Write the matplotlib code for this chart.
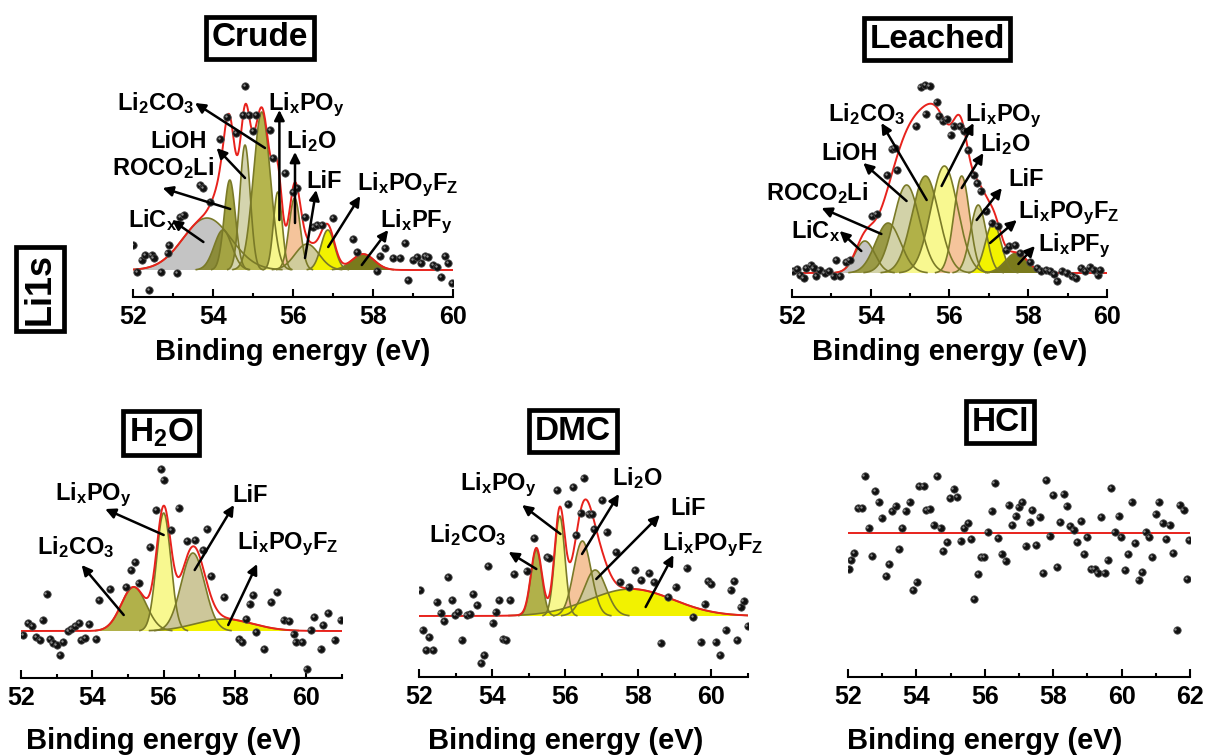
import numpy as np
import matplotlib.pyplot as plt
from matplotlib.transforms import offset_copy

plt.rcParams['font.family'] = 'Liberation Sans'
plt.rcParams['font.weight'] = 'bold'
plt.rcParams['axes.labelweight'] = 'bold'
plt.rcParams['mathtext.fontset'] = 'custom'
plt.rcParams['mathtext.rm'] = 'Liberation Sans:bold'
plt.rcParams['mathtext.bf'] = 'Liberation Sans:bold'
plt.rcParams['mathtext.it'] = 'Liberation Sans:bold:italic'

# ---------------- data (binding energy in eV, intensity in a.u.) ----------------
# Crude
crude_E = [52.00, 52.10, 52.22, 52.30, 52.40, 52.47, 52.52, 52.70, 52.87, 52.90, 53.10, 53.18,
           53.27, 53.68, 53.76, 53.93, 54.18, 54.36, 54.58, 54.75, 54.80, 54.90, 55.00, 55.08,
           55.43, 55.50, 55.80, 56.00, 56.10, 56.30, 56.50, 56.60, 56.73, 57.00, 57.50, 57.60,
           58.10, 58.18, 58.30, 58.50, 58.68, 58.80, 58.88, 59.00, 59.10, 59.20, 59.30, 59.38,
           59.50, 59.60, 59.70, 59.80, 59.88, 59.98]
crude_I = [25, -2, 10, 15, -20, 15, 12, -2, 17, 25, -3, 53,
           55, 85, 82, 68, 131, 153, 137, 155, 184, 155, 139, 155,
           140, 112, 97, 78, 82, 53, 43, 45, 45, 52, 31, 18,
           -1, 14, 22, 12, 12, 27, -10, 10, 13, 7, 14, 13,
           5, 3, -7, 14, 7, -13]
crude_center = [53.85, 54.25, 54.42, 54.80, 55.22, 55.62, 56.04, 56.35, 56.87, 57.75]
crude_height = [52, 40, 90, 125, 158, 78, 72, 26, 40, 16]
crude_sigma = [0.60, 0.22, 0.14, 0.13, 0.21, 0.11, 0.14, 0.30, 0.17, 0.28]
crude_colors = ['#c4c4c4', '#8c8c3a', '#a4a443', '#d4d4ae', '#b5b54e', '#f6f68c',
                '#f5c49b', '#d0cc9c', '#f2f200', '#7a7a1c']

# Leached
leached_E = [52.03, 52.13, 52.21, 52.30, 52.36, 52.47, 52.55, 52.62, 52.70, 52.83, 52.94, 53.06,
             53.13, 53.23, 53.37, 53.47, 54.04, 54.15, 54.42, 54.53, 54.61, 54.67, 55.16, 55.27,
             55.38, 55.50, 55.40, 55.67, 55.74, 55.83, 55.93, 56.03, 56.11, 56.27, 56.37, 56.48,
             56.61, 56.71, 56.79, 56.93, 57.07, 57.22, 57.44, 57.52, 57.67, 57.79, 58.05, 58.22,
             58.32, 58.45, 58.56, 58.66, 58.74, 58.85, 58.98, 59.11, 59.22, 59.34, 59.45, 59.56,
             59.66, 59.76, 59.83]
leached_I = [2, 4, -2, -5, 5, 8, 5, -3, 3, 0, 2, -3,
             13, -3, 11, 13, 57, 59, 98, 124, 125, 103, 147, 186,
             188, 187, 159, 171, 157, 152, 154, 138, 147, 147, 142, 123,
             98, 90, 82, 62, 50, 47, 23, 27, 28, 20, 11, 5,
             2, 3, 2, -1, -8, 2, 0, -3, -5, 5, 2, 6,
             3, -2, 3]
leached_center = [53.85, 54.44, 54.91, 55.39, 55.87, 56.31, 56.73, 57.11, 57.70]
leached_height = [32, 50, 88, 97, 107, 97, 68, 50, 20]
leached_sigma = [0.25, 0.32, 0.33, 0.34, 0.34, 0.20, 0.20, 0.20, 0.28]
leached_colors = ['#c4c4c4', '#9a9a46', '#d2d2a8', '#b1b148', '#f8f890', '#f5c49b',
                  '#d5d3a6', '#f2f200', '#7a7a1c']

# H2O
h2o_E = [52.07, 52.21, 52.32, 52.42, 52.53, 52.61, 52.72, 52.81, 52.89, 53.00, 53.10, 53.19,
         53.33, 53.40, 53.52, 53.64, 53.69, 53.80, 53.92, 54.11, 54.20, 54.50, 54.95, 55.09,
         55.20, 55.30, 55.63, 55.79, 55.93, 56.00, 56.21, 56.42, 56.66, 56.89, 57.10, 57.22,
         57.33, 57.70, 58.11, 58.20, 58.32, 58.41, 58.51, 58.60, 58.81, 59.02, 59.19, 59.37,
         59.52, 59.65, 59.70, 59.89, 60.01, 60.12, 60.22, 60.40, 60.48, 60.61, 60.80, 60.96]
h2o_I = [-4, 8, 5, -6, -9, 11, 37, -8, -12, -14, -24, -11,
         0, 2, 5, 8, -9, -7, 7, -8, 31, 42, 44, 61,
         69, 48, 84, 121, 162, 151, 101, 123, 90, 91, 81, 102,
         55, 34, -8, -11, 12, 27, 36, -1, -18, 29, 39, 11,
         10, -3, -11, -11, -38, 1, 14, -18, 6, 18, -9, 11]
h2o_center = [55.16, 56.00, 56.82, 57.69]
h2o_height = [44, 118, 78, 12]
h2o_sigma = [0.35, 0.20, 0.33, 0.80]
h2o_colors = ['#b1b14a', '#f8f890', '#cdc79a', '#f2f200']

# DMC
dmc_E = [52.03, 52.10, 52.19, 52.28, 52.39, 52.48, 52.59, 52.69, 52.80, 52.90, 52.99, 53.08,
         53.17, 53.31, 53.40, 53.49, 53.60, 53.70, 53.79, 53.90, 54.02, 54.10, 54.19, 54.29,
         54.39, 54.50, 54.61, 54.95, 55.15, 55.50, 55.55, 55.78, 56.08, 56.21, 56.30, 56.42,
         56.50, 56.64, 56.73, 56.80, 57.01, 57.13, 57.40, 57.51, 57.74, 57.92, 58.08, 58.29,
         58.43, 58.61, 58.82, 59.02, 59.32, 59.50, 59.71, 59.82, 59.91, 60.00, 60.12, 60.24,
         60.39, 60.53, 60.62, 60.71, 60.80, 60.88, 60.99]
dmc_I = [26, -14, -34, -21, -34, 14, 3, -5, 39, 16, 1, 4,
         -24, 1, 2, 22, 11, -47, -39, 50, -7, 4, 16, -23,
         -24, 16, 42, 45, 78, 59, 58, 126, 112, 129, 81, 103,
         138, 102, 102, 87, 116, 84, 64, 34, 29, 46, 36, 43,
         34, -27, 19, 29, 48, -1, -26, 12, 35, 32, -26, -39,
         -14, 26, 35, -24, 9, 15, -10]
dmc_center = [55.21, 55.85, 56.47, 56.82, 57.80]
dmc_height = [66, 100, 75, 46, 27]
dmc_sigma = [0.15, 0.14, 0.24, 0.30, 1.15]
dmc_colors = ['#b1b14a', '#f8f890', '#f5c49b', '#cdc79a', '#f2f200']

# HCl (no Li signal, flat fit)
hcl_E = [52.02, 52.10, 52.19, 52.29, 52.41, 52.49, 52.60, 52.70, 52.80, 52.90, 52.99, 53.11,
         53.20, 53.29, 53.39, 53.50, 53.59, 53.69, 53.80, 53.90, 54.01, 54.09, 54.21, 54.29,
         54.39, 54.50, 54.60, 54.71, 54.79, 54.90, 54.99, 55.09, 55.19, 55.30, 55.40, 55.51,
         55.60, 55.69, 55.80, 55.89, 55.99, 56.09, 56.20, 56.29, 56.40, 56.49, 56.61, 56.70,
         56.80, 56.90, 56.99, 57.09, 57.20, 57.31, 57.39, 57.50, 57.60, 57.70, 57.79, 57.90,
         58.00, 58.11, 58.20, 58.31, 58.40, 58.50, 58.60, 58.70, 58.81, 58.90, 59.00, 59.11,
         59.21, 59.30, 59.40, 59.50, 59.59, 59.70, 59.80, 59.91, 59.99, 60.10, 60.20, 60.30,
         60.40, 60.50, 60.60, 60.71, 60.80, 60.90, 61.00, 61.09, 61.20, 61.31, 61.41, 61.50,
         61.61, 61.70, 61.81, 61.91, 61.97]
hcl_I = [-36, -27, -20, 25, 25, 57, 5, -23, 42, 31, 15, -43,
         -31, 22, 27, -16, 5, 22, 31, -57, -49, 47, 47, 23,
         24, 8, 57, 5, -18, -9, 35, 44, 36, -8, 5, 10,
         -6, -66, -41, -24, -24, 1, 22, 50, -5, -21, -28, 28,
         8, 17, 26, 31, -13, 11, 23, -12, 16, -40, 53, -3,
         38, -34, 11, 39, 27, 7, 3, -9, 12, -21, -4, -36,
         -36, -40, 16, -40, -27, 45, 1, 17, -4, -37, -21, 31,
         -10, -47, -39, 1, -4, -24, 19, 31, 10, -6, 8, -20,
         -97, 28, 23, -46, -7]
hcl_fit_level = 0

# labels, their positions (E, I) and arrows (peak -> label)
crude_labels = ['LiC$_\\mathbf{x}$', 'ROCO$_\\mathbf{2}$Li', 'LiOH', 'Li$_\\mathbf{2}$CO$_\\mathbf{3}$',
                'Li$_\\mathbf{x}$PO$_\\mathbf{y}$', 'Li$_\\mathbf{2}$O', 'LiF',
                'Li$_\\mathbf{x}$PO$_\\mathbf{y}$F$_\\mathbf{Z}$', 'Li$_\\mathbf{x}$PF$_\\mathbf{y}$']
crude_label_xy = [(51.88, 43), (51.48, 95), (52.43, 122), (51.60, 160), (55.38, 160),
                  (55.83, 122), (56.33, 82), (57.60, 80), (58.18, 43)]
crude_arrow_from = [(53.76, 28), (54.43, 61), (54.80, 92), (55.30, 122), (55.66, 50),
                    (56.05, 47), (56.30, 12), (56.88, 23), (57.72, 5)]
crude_arrow_to = [(52.97, 50), (52.74, 82), (54.09, 122), (53.55, 167), (55.66, 160),
                  (56.05, 118), (56.58, 80), (57.68, 74), (58.38, 40)]

leached_label_xy = [(51.98, 35), (51.35, 73), (52.75, 113), (52.92, 152), (56.39, 152),
                    (56.78, 122), (57.50, 87), (57.75, 55), (58.26, 22)]
leached_arrow_from = [(53.76, 22), (54.27, 39), (54.91, 72), (55.42, 73), (55.80, 87),
                      (56.31, 85), (56.69, 53), (57.03, 30), (57.75, 9)]
leached_arrow_to = [(53.21, 42), (52.75, 65), (53.81, 110), (54.27, 150), (56.61, 150),
                    (56.86, 120), (57.33, 85), (57.71, 53), (58.17, 27)]

h2o_labels = ['Li$_\\mathbf{2}$CO$_\\mathbf{3}$', 'Li$_\\mathbf{x}$PO$_\\mathbf{y}$', 'LiF',
              'Li$_\\mathbf{x}$PO$_\\mathbf{y}$F$_\\mathbf{Z}$']
h2o_label_xy = [(52.44, 77), (52.96, 131), (57.92, 129), (58.06, 82)]
h2o_arrow_from = [(54.88, 16), (56.00, 96), (56.87, 61), (57.81, 6)]
h2o_arrow_to = [(53.70, 66), (54.36, 122), (57.97, 126), (58.62, 67)]

dmc_labels = ['Li$_\\mathbf{2}$CO$_\\mathbf{3}$', 'Li$_\\mathbf{x}$PO$_\\mathbf{y}$', 'Li$_\\mathbf{2}$O', 'LiF',
              'Li$_\\mathbf{x}$PO$_\\mathbf{y}$F$_\\mathbf{Z}$']
dmc_label_xy = [(52.26, 74), (53.12, 126), (57.28, 131), (58.88, 101), (58.65, 66)]
dmc_arrow_from = [(55.21, 47), (55.87, 82), (56.46, 62), (56.85, 37), (58.20, 9)]
dmc_arrow_to = [(54.45, 64), (54.82, 111), (57.47, 122), (58.59, 101), (58.96, 61)]

# ---------------- layout in pixels of a 1207x756 canvas ----------------
W, H = 1207, 756
fig = plt.figure(figsize=(W / 100, H / 100), dpi=100)

EDGE = '#7a7a28'
RED = '#e8221c'


def gauss(x, c, h, s):
  return h * np.exp(-(x - c) ** 2 / (2 * s ** 2))


def make_axes(x_left, x_right, e_max, axis_y, top_y, base_y, label_top):
  ax = fig.add_axes([x_left / W, 1 - axis_y / H, (x_right - x_left) / W, (axis_y - top_y) / H])
  ax.set_xlim(52, e_max)
  ax.set_ylim(base_y - axis_y, base_y - top_y)
  for s in ['left', 'right', 'top']:
    ax.spines[s].set_visible(False)
  ax.spines['bottom'].set_linewidth(1.5)
  ax.set_yticks([])
  ax.set_xticks(np.arange(52, e_max + 0.1, 2))
  ax.set_xticks(np.arange(53, e_max + 0.1, 2), minor=True)
  ax.tick_params(axis='x', which='major', direction='in', length=6, width=1.5, labelsize=18, pad=6)
  ax.tick_params(axis='x', which='minor', direction='in', length=3, width=1.5)
  ax.patch.set_alpha(0)
  ax.set_xlabel('Binding energy (eV)', fontsize=21, fontweight='bold')
  ax.xaxis.set_label_coords((56 - 52) / (e_max - 52), -(label_top - axis_y) / (axis_y - top_y))
  return ax


def draw_fit(ax, e_max, centers, heights, sigmas, colors):
  x = np.linspace(52, e_max, 900)
  total = np.zeros_like(x)
  curves = []
  for c, h, s, col in zip(centers, heights, sigmas, colors):
    y = gauss(x, c, h, s)
    total += y
    ax.fill_between(x, 0, y, where=y > 0.2, facecolor=col, edgecolor='none', zorder=2)
    curves.append(y)
  for y in curves:
    m = y > 0.4
    ax.plot(x[m], y[m], color=EDGE, lw=1.2, zorder=3)
  ax.plot(x, total, color=RED, lw=1.4, zorder=4)


def draw_points(ax, E, I):
  # dark spheres with a small grey highlight
  ax.scatter(E, I, s=28, c='#111111', edgecolors='#4a4a4a', linewidths=0.6, zorder=5)
  shine = offset_copy(ax.transData, fig=fig, x=-1.0, y=1.0, units='points')
  ax.scatter(E, I, s=3, c='#8c8c8c', linewidths=0, zorder=5.5, transform=shine)


def draw_labels(ax, labels, label_xy, a_from, a_to):
  for txt, (lx, ly) in zip(labels, label_xy):
    ax.text(lx, ly, txt, fontsize=17, ha='left', va='baseline', clip_on=False, zorder=7)
  for p0, p1 in zip(a_from, a_to):
    ax.annotate('', xy=p1, xytext=p0, annotation_clip=False, zorder=6,
                arrowprops=dict(arrowstyle='-|>', color='k', lw=1.8, mutation_scale=15,
                                shrinkA=0, shrinkB=0))


def box_title(x, y, txt, rot=0, size=24):
  fig.text(x / W, 1 - y / H, txt, fontsize=size, ha='center', va='center', rotation=rot,
           bbox=dict(boxstyle='square,pad=0.17', fc='white', ec='black', lw=3.4))


# Crude
ax = make_axes(133, 453, 60, 297, 80, 270, 338)
draw_fit(ax, 60, crude_center, crude_height, crude_sigma, crude_colors)
draw_points(ax, crude_E, crude_I)
draw_labels(ax, crude_labels, crude_label_xy, crude_arrow_from, crude_arrow_to)

# Leached
ax = make_axes(792, 1107, 60, 297, 80, 273, 338)
draw_fit(ax, 60, leached_center, leached_height, leached_sigma, leached_colors)
draw_points(ax, leached_E, leached_I)
draw_labels(ax, crude_labels, leached_label_xy, leached_arrow_from, leached_arrow_to)

# H2O
ax = make_axes(21, 342, 61, 678, 460, 631, 727)
draw_fit(ax, 61, h2o_center, h2o_height, h2o_sigma, h2o_colors)
draw_points(ax, h2o_E, h2o_I)
draw_labels(ax, h2o_labels, h2o_label_xy, h2o_arrow_from, h2o_arrow_to)

# DMC
ax = make_axes(419, 748, 61, 677, 460, 616, 727)
draw_fit(ax, 61, dmc_center, dmc_height, dmc_sigma, dmc_colors)
draw_points(ax, dmc_E, dmc_I)
draw_labels(ax, dmc_labels, dmc_label_xy, dmc_arrow_from, dmc_arrow_to)

# HCl
ax = make_axes(848, 1190, 62, 677, 450, 533, 727)
ax.axhline(hcl_fit_level, color=RED, lw=1.4, zorder=4)
draw_points(ax, hcl_E, hcl_I)

box_title(260, 38, 'Crude')
box_title(937, 39, 'Leached')
box_title(161, 433, 'H$_\\mathbf{2}$O')
box_title(573, 431, 'DMC')
box_title(1000, 422, 'HCl')
box_title(40, 289, 'Li1s', rot=90, size=26)

fig.savefig('out.png', dpi=100)
